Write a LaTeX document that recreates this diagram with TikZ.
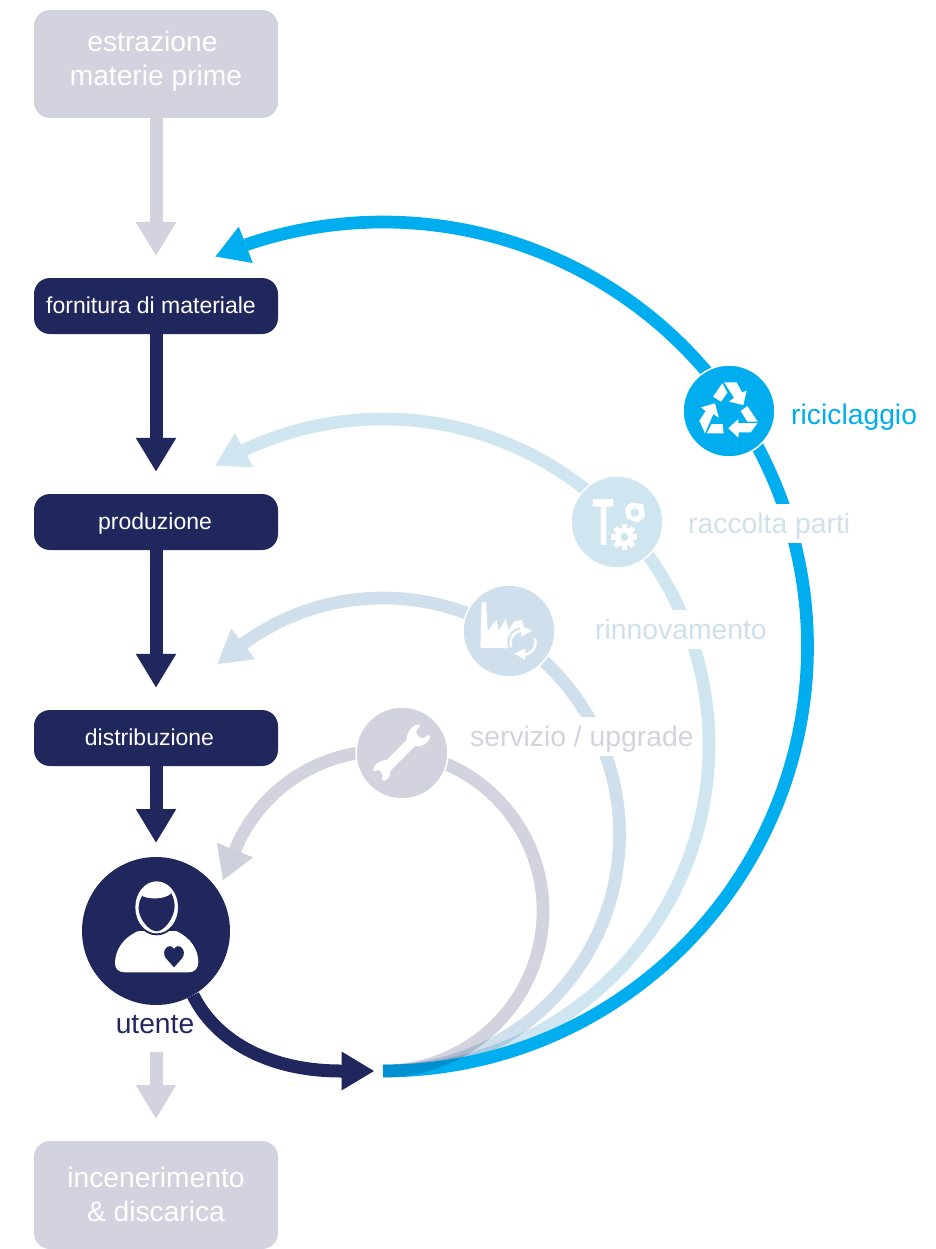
\documentclass[tikz,border=0pt]{standalone}
\usepackage{fontspec}
\setmainfont{Liberation Sans}
\usetikzlibrary{arrows.meta,calc}
\definecolor{navy}{HTML}{20275D}
\definecolor{grayb}{HTML}{D3D3DF}
\definecolor{grayh}{HTML}{CED1DB}
\definecolor{cyanb}{HTML}{00AEEF}
\definecolor{lightb}{HTML}{CFE6F1}
\definecolor{midb}{HTML}{CFDFEC}
\definecolor{lablb}{HTML}{D2E0EC}
\tikzset{
  bigbox/.style={fill=grayb,text=white,rounded corners=16pt,minimum width=244pt,minimum height=108pt,inner sep=0pt,font=\fontsize{28.2}{34}\selectfont},
  navybox/.style={fill=navy,text=white,rounded corners=16pt,minimum width=244pt,minimum height=56pt,inner sep=0pt,text height=19pt,text depth=5pt,font=\fontsize{23}{28}\selectfont},
  iconcirc/.style={circle,minimum size=92pt,inner sep=0pt,draw=white,line width=1.5pt},
  label/.style={font=\fontsize{28.3}{34}\selectfont,inner xsep=2pt,inner ysep=0pt,fill=white,text height=27pt,text depth=7pt,minimum height=39pt},
  flowarrow/.style={line width=13pt,-{Triangle[width=38pt,length=34pt]}},
  loophead/.style={line width=13pt,-{Triangle[width=36.5pt,length=33pt]}},
  loopshaft/.style={line width=12.7pt},
  loopblend/.style={loopshaft,blend mode=multiply},
}
\newcommand{\twolines}[3]{\raisebox{#1}[0pt][0pt]{\begin{tabular}{@{}c@{}}#2\\#3\end{tabular}}}
\begin{document}
\begin{tikzpicture}[x=1pt,y=1pt,yscale=-1]
\useasboundingbox (0,0) rectangle (935,1249);
% boxes
\node[bigbox] (estr) at (156,64) {\twolines{-4pt}{\hspace*{-7pt}estrazione}{materie prime}};
\node[navybox] (forn) at (156,306) {\hspace*{-10pt}fornitura di materiale};
\node[navybox] (prod) at (156,522) {\hspace*{-2pt}produzione};
\node[navybox] (dist) at (156,738) {\hspace*{-13pt}distribuzione};
\node[bigbox] (ince) at (156,1195) {\twolines{-9pt}{incenerimento}{\& discarica}};
% free ends
\coordinate (loopstart) at (383,1071);
\coordinate (e1) at (156,256);
\coordinate (u1) at (156,843);
\coordinate (g0) at (156,1052);
\coordinate (g1) at (156,1119);
\coordinate (c1) at (374.5,1071);
\coordinate (tipA) at (215,256.7);
\coordinate (tipB) at (215,465.7);
\coordinate (tipC) at (217.3,664.3);
\coordinate (tipD) at (222.7,880.7);
% vertical arrows
\draw[flowarrow,grayb] (estr.south) -- (e1);
\draw[flowarrow,navy] (forn.south) -- ($(prod.north)+(0,-22)$);
\draw[flowarrow,navy] (prod.south) -- ($(dist.north)+(0,-22)$);
\draw[flowarrow,navy] (dist.south) -- (u1);
\draw[flowarrow,grayb] (g0) -- (g1);
% loops
\draw[loopblend,lightb] (loopstart) arc[start angle=90,end angle=-115.15,radius=326pt] coordinate (baseB);
\draw[loopblend,midb] (loopstart) arc[start angle=90,end angle=-125.7,radius=236.5pt] coordinate (baseC);
\draw[loopshaft,cyanb] (loopstart) arc[start angle=90,end angle=-108.8,radius=424.5pt] coordinate (baseA);
\draw[loopblend,grayb] (loopstart) arc[start angle=90,end angle=-157.5,radius=160pt] coordinate (baseD);
\draw[loophead,cyanb] (baseA) -- (tipA);
\draw[loophead,lightb] (baseB) -- (tipB);
\draw[loophead,midb] (baseC) -- (tipC);
\draw[loophead,grayh] (baseD) -- (tipD);
% user
\node[circle,fill=navy,minimum size=148pt,inner sep=0pt] (user) at (156,931) {};
\draw[navy,line width=13pt] (user.-60) .. controls (214,1038) and (265,1071) .. (341,1071) coordinate (c0);
\draw[loophead,navy] (c0) -- (c1);
% icon circles
\node[iconcirc,fill=cyanb] (rec) at (729,411) {};
\node[iconcirc,fill=lightb] (par) at (617,522) {};
\node[iconcirc,fill=midb] (fac) at (509,631) {};
\node[iconcirc,fill=grayb] (wre) at (402,753) {};
% labels
\node[label,text=cyanb,anchor=west] (l1) at (789,414) {riciclaggio};
\node[label,text=lablb,anchor=west] (l2) at (686,523.3) {raccolta parti};
\node[label,text=midb,anchor=west] (l3) at (593,629.3) {rinnovamento};
\node[label,text=grayb,anchor=west] (l4) at (468,736.7) {servizio / upgrade};
\node[font=\fontsize{28.2}{34}\selectfont,text=navy,inner sep=0pt] (l5) at (155,1025) {utente};
% recycle icon
\begin{scope}[shift={(660,350)},scale=0.33333]
\fill[white] (187,100)--(202,128)--(183,155)--(159,140)--cycle;
\fill[white] (192,97)--(230,97)--(246,127)--(260,122)--(250,165)--(207,155)--(222,143)--cycle;
\fill[white] (262,168)--(293,215)--(262,215)--(242,183)--cycle;
\fill[white] (293,219)--(272,247)--(236,247)--(235,263)--(205,235)--(235,207)--(235,219)--cycle;
\fill[white] (155,222)--(188,222)--(191,250)--(140,250)--cycle;
\fill[white] (135,250)--(118,212)--(137,183)--(123,172)--(165,160)--(176,203)--(160,192)--cycle;
\end{scope}
% parts icon
\begin{scope}[shift={(550,460)},scale=0.33333]
\fill[white] (128,117)--(190,117)--(190,138)--(169,141)--(169,255)--(152,255)--(152,141)--(128,138)--cycle;
\fill[white] (242,127)--(280,133)--(285,170)--(262,188)--(230,175)--(225,145)--cycle;
\fill[lightb] (254,158) circle[radius=13pt];
\foreach \a in {0,45,...,135}{
  \fill[white,rotate around={\a:(223,231)}] (215,192) rectangle (231,270);
}
\fill[white] (223,231) circle[radius=29pt];
\fill[lightb] (223,231) circle[radius=12pt];
\end{scope}
% factory icon
\begin{scope}[shift={(340,570)},scale=0.33333]
\fill[white] (425,97)--(438,97)--(443,182)--(470,150)--(476,182)--(497,148)--(505,180)--(522,155)--(545,150)--(560,200)--(505,235)--(421,233)--cycle;
\fill[midb] (548,218) circle[radius=46pt];
\draw[white,line width=2.6pt] (514,232) arc[start angle=158,end angle=265,radius=37pt];
\draw[white,line width=2.6pt] (584,205) arc[start angle=-20,end angle=85,radius=37pt];
\fill[white] (540,166)--(577,182)--(544,200)--cycle;
\fill[white] (555,235)--(555,268)--(523,252)--cycle;
\end{scope}
% wrench icon
\begin{scope}[shift={(340,570)},scale=0.33333]
\fill[white] (198,512) .. controls (202,490) and (210,470) .. (233,463) .. controls (240,462) and (242,466) .. (238,472) .. controls (230,478) and (226,485) .. (229,491) .. controls (236,503) and (246,508) .. (255,502) .. controls (262,496) and (270,492) .. (271,498) .. controls (270,515) and (250,532) .. (225,528) -- (151,602) .. controls (152,618) and (145,628) .. (133,632) .. controls (126,634) and (124,628) .. (127,622) .. controls (130,612) and (122,602) .. (115,600) .. controls (107,600) and (102,608) .. (99,602) .. controls (100,585) and (118,570) .. (140,570) -- cycle;
\end{scope}
% user icon
\begin{scope}[shift={(70,850)},scale=0.33333]
\fill[white] (205,243) .. controls (160,262) and (135,300) .. (135,340) .. controls (135,358) and (148,367) .. (165,367) -- (355,367) .. controls (375,367) and (385,355) .. (385,335) .. controls (385,300) and (362,262) .. (318,243) -- cycle;
\fill[navy] (260,172) ellipse[x radius=70pt,y radius=84pt];
\fill[white] (260,172) ellipse[x radius=64pt,y radius=78pt];
\fill[navy] (216,138) .. controls (235,148) and (285,150) .. (304,130) .. controls (318,160) and (316,180) .. (304,205) .. controls (292,228) and (274,244) .. (260,244) .. controls (246,244) and (226,228) .. (214,205) .. controls (202,180) and (204,160) .. (216,138) -- cycle;
\fill[navy] (312,352) -- (288,325) .. controls (270,300) and (300,275) .. (312,297) .. controls (324,275) and (354,300) .. (336,325) -- cycle;
\end{scope}
\end{tikzpicture}
\end{document}
